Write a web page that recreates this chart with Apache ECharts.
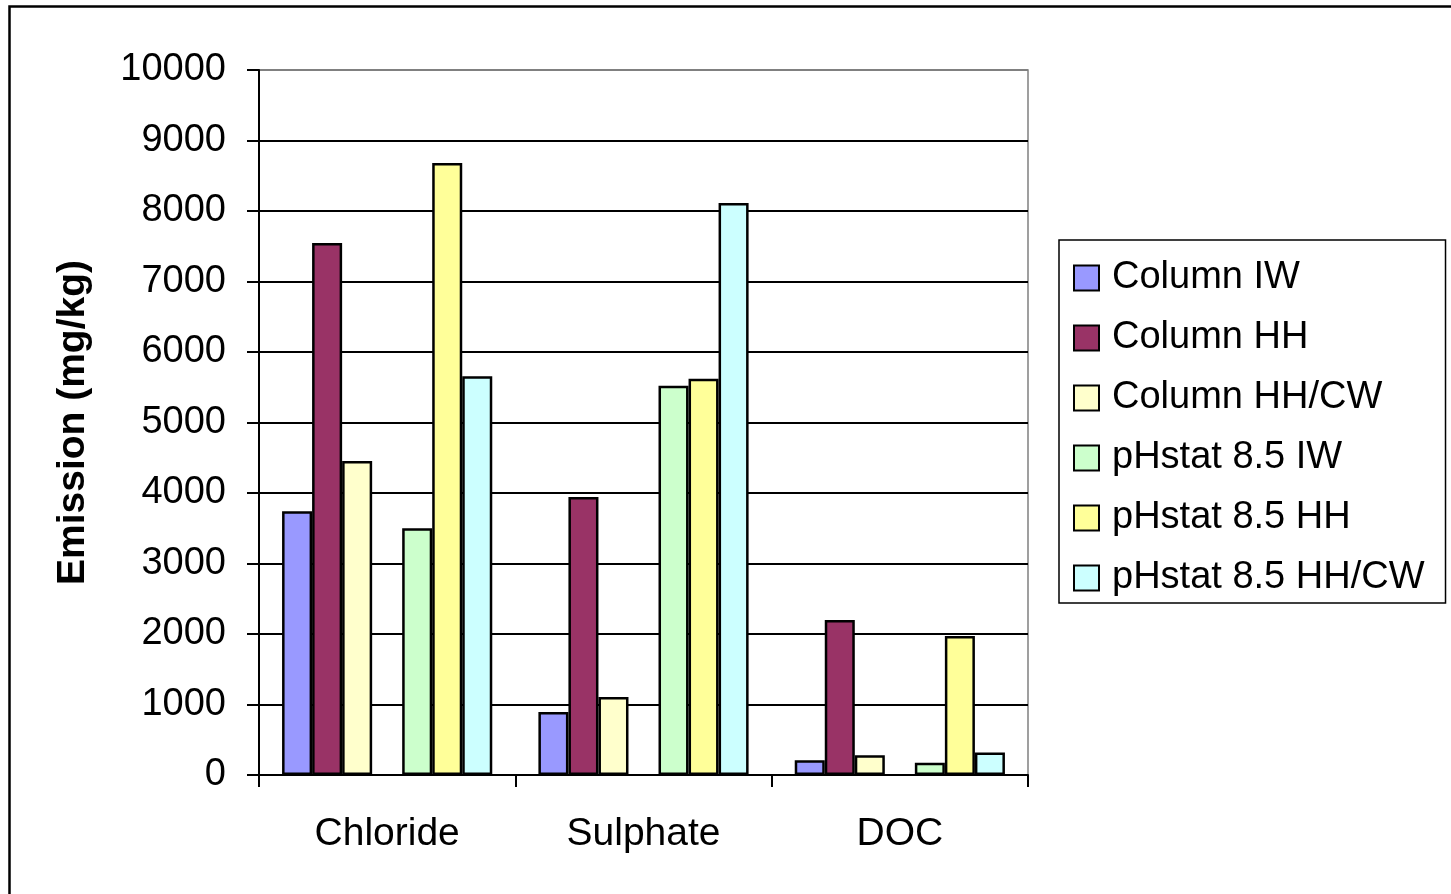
<!DOCTYPE html>
<html>
<head>
<meta charset="utf-8">
<script src="https://cdn.jsdelivr.net/npm/echarts@6/dist/echarts.min.js"></script>
<style>html,body{margin:0;padding:0;background:#fff;}#c{width:1451px;height:894px;}</style>
</head>
<body>
<div id="c"></div>
<script>
var categories = ['Chloride', 'Sulphate', 'DOC'];
var seriesNames = ['Column IW', 'Column HH', 'Column HH/CW', 'pHstat 8.5 IW', 'pHstat 8.5 HH', 'pHstat 8.5 HH/CW'];
var columnIW = [3740, 895, 210];
var columnHH = [7545, 3945, 2200];
var columnHHCW = [4455, 1105, 280];
var phIW = [3500, 5520, 175];
var phHH = [8680, 5620, 1970];
var phHHCW = [5655, 8115, 320];
var yTicks = [0, 1000, 2000, 3000, 4000, 5000, 6000, 7000, 8000, 9000, 10000];

var colors = ['#9999FF', '#993366', '#FFFFCC', '#CCFFCC', '#FFFF99', '#CCFFFF'];
var values = [columnIW, columnHH, columnHHCW, phIW, phHH, phHHCW];
var FONT = '"Liberation Sans", Arial, sans-serif';

var series = [];
for (var i = 0; i < 6; i++) {
  if (i === 3) {
    series.push({ name: '', type: 'bar', data: [null, null, null], barGap: '0%', barCategoryGap: '18%' });
  }
  series.push({
    name: seriesNames[i], type: 'bar', data: values[i],
    barGap: '0%', barCategoryGap: '18%',
    itemStyle: { color: colors[i], borderColor: '#000', borderWidth: 2.5 }
  });
}

var splitColors = yTicks.map(function (v) { return v === 10000 ? '#808080' : '#000'; });

var chart = echarts.init(document.getElementById('c'), null, { renderer: 'canvas' });
chart.setOption({
  animation: false,
  backgroundColor: '#fff',
  textStyle: { fontFamily: FONT },
  grid: { left: 259, right: 423, top: 70, bottom: 119, show: true, borderColor: '#808080', borderWidth: 1.5, backgroundColor: 'transparent' },
  graphic: [{
    type: 'rect', shape: { x: 9.5, y: 6.5, width: 1600, height: 1000 },
    style: { fill: 'none', stroke: '#000', lineWidth: 2.5 }, silent: true, z: -1
  }],
  legend: {
    data: seriesNames,
    orient: 'vertical',
    left: 1059, top: 240,
    padding: [19, 21, 6, 14],
    itemWidth: 25, itemHeight: 25, itemGap: 22,
    borderColor: '#000', borderWidth: 1.5,
    icon: 'rect',
    itemStyle: { borderColor: '#000', borderWidth: 2 },
    textStyle: { fontFamily: FONT, fontSize: 38, color: '#000', padding: [0, 0, 0, 8] }
  },
  xAxis: {
    type: 'category', data: categories,
    axisLine: { lineStyle: { color: '#000', width: 2 } },
    axisTick: { show: true, length: 12, lineStyle: { color: '#000', width: 2 } },
    axisLabel: { fontFamily: FONT, fontSize: 39, color: '#000', margin: 40 }
  },
  yAxis: {
    type: 'value', min: 0, max: 10000, interval: 1000,
    name: 'Emission (mg/kg)', nameLocation: 'middle', nameGap: 166,
    nameTextStyle: { fontFamily: FONT, fontSize: 39, fontWeight: 'bold', color: '#000' },
    axisLine: { show: true, lineStyle: { color: '#000', width: 2 } },
    axisTick: { show: true, length: 12, lineStyle: { color: '#000', width: 2 } },
    axisLabel: { fontFamily: FONT, fontSize: 38, color: '#000', margin: 33, formatter: function (v) { return String(v); } },
    splitLine: { show: true, lineStyle: { color: splitColors, width: 2 } }
  },
  series: series
});
</script>
</body>
</html>
